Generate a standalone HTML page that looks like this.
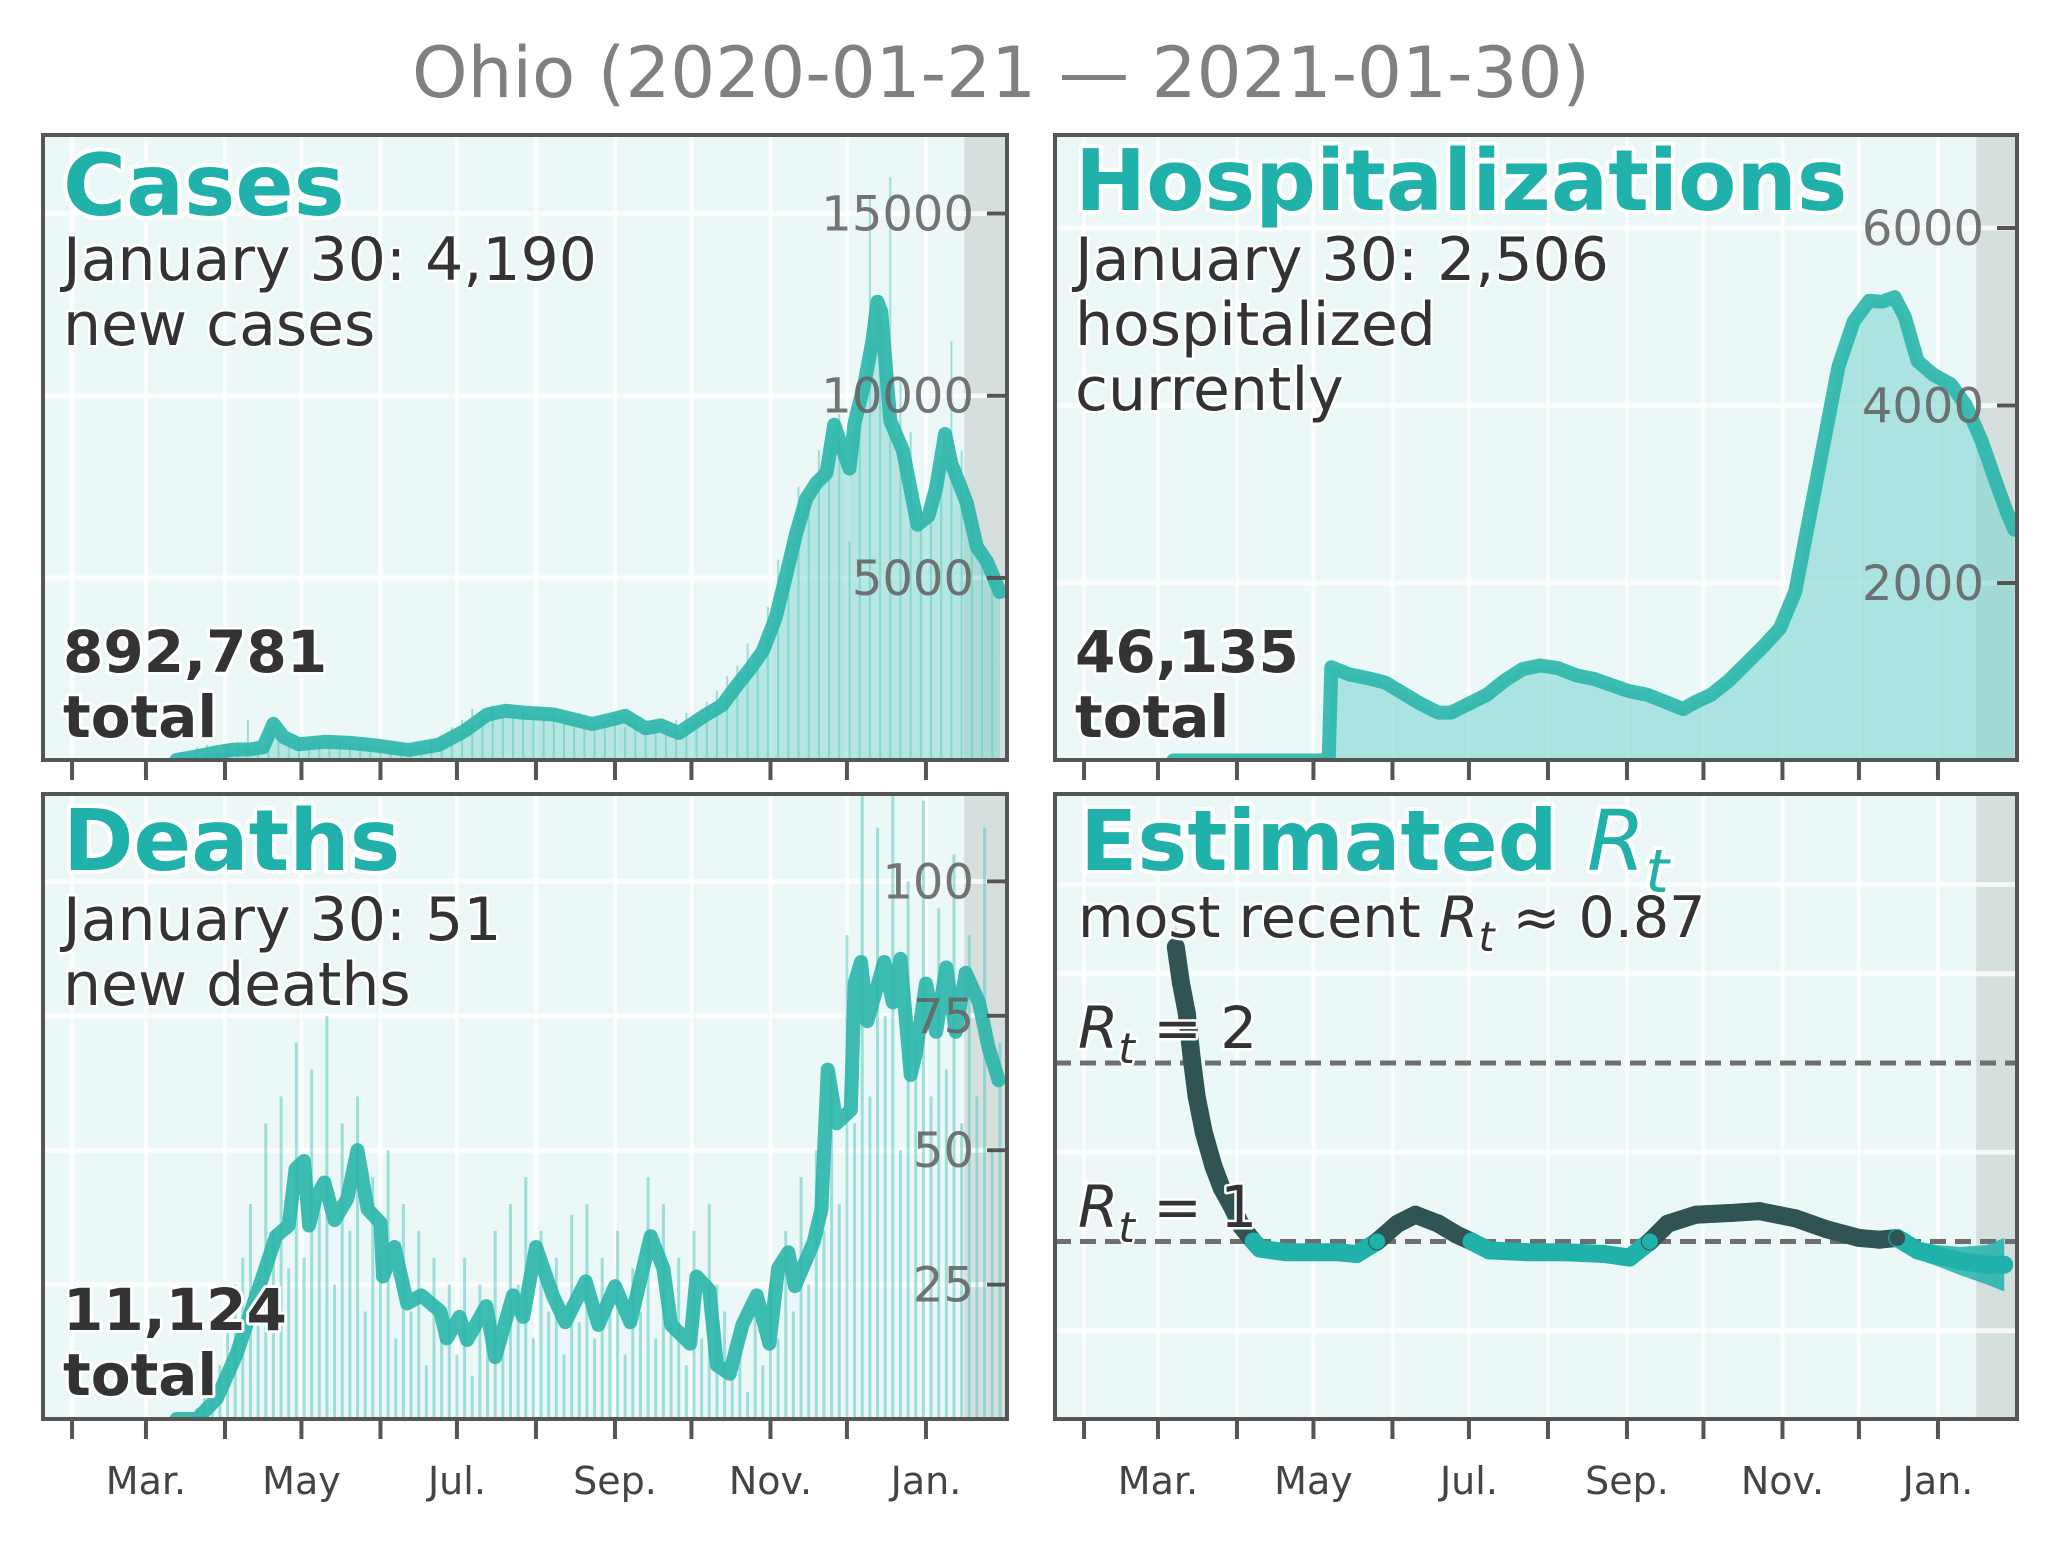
<!DOCTYPE html>
<html><head><meta charset="utf-8">
<style>
html,body{margin:0;padding:0;background:#fff;}
svg{display:block;}
text{font-family:"DejaVu Sans","Liberation Sans",sans-serif;}
.big{font-weight:bold;fill:#20b2aa;stroke:#fff;stroke-width:8px;paint-order:stroke;stroke-linejoin:round;}
.sub{fill:#333;stroke:#fff;stroke-width:5px;paint-order:stroke;stroke-linejoin:round;}
.tot{font-weight:bold;fill:#333;stroke:#fff;stroke-width:6px;paint-order:stroke;stroke-linejoin:round;}
.ytl{fill:#666;font-size:48px;text-anchor:end;opacity:.9;}
.xtl{fill:#444;font-size:38px;text-anchor:middle;}
</style></head>
<body>
<svg id="chart" width="2061" height="1543" viewBox="0 0 2061 1543" xmlns="http://www.w3.org/2000/svg">
<text x="1001" y="97" font-size="70" fill="#808080" text-anchor="middle" textLength="1178" lengthAdjust="spacingAndGlyphs">Ohio (2020-01-21 — 2021-01-30)</text>
</svg>
<script>
// ---- data (days since 2020-01-21) ----
const monthTickDays = [11,40,71,101,132,162,193,224,254,285,315,346];
const monthLabels = ["","Mar.","","May","","Jul.","","Sep.","","Nov.","","Jan."];
const shadeStartDay = 361;
const xMaxDay = 378;

const caseDays = [52,60,67,74,81,86,90,94,100,110,120,130,143,155,165,174,181,188,200,215,222,228,236,242,249,259,266,272,277,282,287,291,295,299,303,307,310,313,316,318,322,325,327,328.5,330,332,337,342.7,347,350,353.5,356,359,362,366,370,375];
const caseVals = [0,100,200,280,290,350,990,630,430,500,470,400,275,420,800,1250,1350,1300,1250,990,1100,1210,870,950,740,1210,1500,2060,2500,2990,3900,5030,6200,7170,7600,7880,9200,8600,8000,9250,10380,11500,12580,12300,10990,9310,8490,6460,6700,7470,8950,8130,7600,7060,5850,5440,4610];
const caseBarStart = 48;
const caseBarStep = 4;
const caseBars = [10,80,200,350,420,380,450,500,1100,500,450,550,
400,600,500,550,480,520,450,500,400,380,300,350,
320,380,500,700,900,1100,1400,1300,1500,1200,1400,1300,
1200,1100,1300,1000,900,1100,850,1000,1250,900,1100,800,
1000,900,1100,1300,1200,1600,1900,2300,2600,3200,3000,4200,
5500,6000,7500,7000,8500,7800,9500,6000,9000,15500,11000,16000,
10500,9000,7000,6500,8000,11500,8500,7000,6000,5000];
const caseTicks = [5000,10000,15000];

const hospDays = [46,107,108,115,122,129,136,143,150,155,162,169,176,183,190,197,204,211,218,225,232,239,246,251,257,264,271,278,284,290,294,300,307,313,319,324,329,333,338,344,351,357,363,368,373,376];
const hospVals = [0,0,1050,970,930,880,760,640,540,540,640,740,900,1030,1070,1040,960,920,850,780,740,660,580,660,740,900,1100,1300,1490,1900,2500,3400,4440,4950,5180,5170,5220,5000,4500,4350,4240,4000,3610,3200,2800,2600];
const hospTicks = [2000,4000,6000];

const deathDays = [52,60,67.8,75.5,85.8,91,96,98.7,102,104,106.5,110,114,119,123,127,132,133,137.5,142.5,148,155.5,158,163,166,173.5,177,184,188,193,199.6,204.5,212.5,217.5,224,230,238,243,246,253.5,256,261,264,269,274,279.6,284.6,288,292,294.6,302,305,307.5,311,316.5,318,320.5,323,329.6,333,336,340,342,346,350,354,357.7,361.6,366.8,370.6,374.5];
const deathVals = [0,0,3.8,12,26.5,34,36,46.5,48,36,41,44,37,41,50,39,36.5,26.5,32,21.5,23,20,15,19,14.7,21,11.5,23,19,32,23,18,25.6,17.5,24.7,18,34,28,17.5,14,26.5,24,10,8.4,17.5,23,14,28,31,24.7,33,39,65,55,57.5,81,85,74,85,77.5,85.6,64,68,81,72,84,72,83,77.5,69,63];
const deathBarStart = 60;
const deathBarStep = 3;
const deathBars = [2,4,8,10,18,25,30,40,20,55,35,60,28,70,
30,65,40,75,25,55,35,60,20,45,30,50,15,40,
20,35,10,30,15,25,12,30,8,25,18,35,15,40,
25,45,15,35,20,30,12,38,18,40,15,30,20,35,
12,28,20,45,15,40,18,30,10,35,15,40,25,20,
8,15,5,20,10,25,15,35,20,45,25,50,35,65,
40,90,55,120,60,110,75,130,50,100,70,115,60,95,
65,105,55,90,60,110,50,70];
const deathTicks = [25,50,75,100];

const rtDays = [47,49,51.3,53.3,55.2,58,61.8,65,68.5,73,77.5,80,90,100,110,118,126,134,141,150,157,163,170,185,200,215,225,233,240,251,265,276,290,302,315,323,330,338,346,355,365,372];
const rtVals = [2.65,2.45,2.28,2.02,1.81,1.61,1.42,1.3,1.21,1.08,1.0,0.96,0.94,0.94,0.94,0.93,1.0,1.1,1.15,1.1,1.04,1.0,0.95,0.94,0.94,0.93,0.91,1.0,1.1,1.15,1.16,1.17,1.13,1.07,1.02,1.01,1.02,0.95,0.92,0.89,0.87,0.87];
const rtErr = [0.12,0.1,0.09,0.08,0.07,0.06,0.05,0.05,0.05,0.04,0.04,0.04,0.04,0.04,0.04,0.04,0.04,0.05,0.05,0.05,0.04,0.04,0.04,0.04,0.04,0.04,0.04,0.04,0.04,0.05,0.05,0.05,0.05,0.05,0.05,0.04,0.05,0.05,0.06,0.08,0.11,0.15];
const rtGrid = [0.5,1.5,2.5,3];
const rtRefs = [1,2];

// ---- drawing ----
const NS = "http://www.w3.org/2000/svg";
const svg = document.getElementById("chart");
function mk(tag, attrs, parent){const e=document.createElementNS(NS,tag);for(const k in attrs)e.setAttribute(k,attrs[k]);(parent||svg).appendChild(e);return e;}
const PXD = 2.549;
const TEAL = "#2ab5aa";
const LW = 14;

function panel(name, x0, y0, w, h, yScale, ticks, tickFmt, showXLabels){
  const g = mk("g",{});
  
  
  const xs = d => x0 + 1 + d*PXD;
  const clipId = "clip-"+name;
  const cp = mk("clipPath",{id:clipId},g); mk("rect",{x:x0,y:y0,width:w,height:h},cp);
  const bg = mk("rect",{x:x0,y:y0,width:w,height:h,fill:"#ecf7f7"},g);
  
  
  const sh = mk("rect",{x:xs(shadeStartDay),y:y0,width:x0+w-xs(shadeStartDay),height:h,fill:"#d5dfde"},g);
  
  
  monthTickDays.forEach(d=>{mk("line",{x1:xs(d),x2:xs(d),y1:y0,y2:y0+h,stroke:"#fff",'stroke-width':4,opacity:0.8},g);});
  ticks.forEach(t=>{const y=yScale(t);mk("line",{x1:x0,x2:x0+w,y1:y,y2:y,stroke:"#fff",'stroke-width':5,opacity:0.8},g);});
  const content = mk("g",{'clip-path':"url(#"+clipId+")"},g);
  monthTickDays.forEach((d,i)=>{
    const t = mk("line",{x1:xs(d),x2:xs(d),y1:y0+h,y2:y0+h+20,stroke:"#555",'stroke-width':4},g);
    
    
    if(showXLabels && monthLabels[i]){
      const tl = mk("text",{x:xs(d),y:1494,class:"xtl"},g); tl.textContent=monthLabels[i];
      
      
    }
  });
  if(tickFmt){
    ticks.forEach(t=>{
      const y=yScale(t);
      mk("line",{x1:x0+w-20,x2:x0+w,y1:y,y2:y,stroke:"#555",'stroke-width':4},g);
      const tl = mk("text",{x:x0+w-33,y:y+17,class:"ytl"},g); tl.textContent=tickFmt(t);
      
      
    });
  }
  return {g, content, xs, frame:()=>{const f=mk("rect",{x:x0,y:y0,width:w,height:h,fill:"none",stroke:"#555",'stroke-width':4},g);}};
}
function pathFrom(days, vals, xs, ys){return days.map((d,i)=>(i?"L":"M")+xs(d).toFixed(1)+","+ys(vals[i]).toFixed(1)).join("");}
function barsFrom(parent, start, step, vals, xs, ys, base, w, name){
  vals.forEach((v,i)=>{
    const d = start + i*step;
    const b = mk("rect",{x:xs(d)-w/2,y:ys(v),width:w,height:base-ys(v),fill:"#5fcac1",opacity:0.55},parent);
    
    
  });
}
function textLines(parent, x, items){
  items.forEach(it=>{const t=mk("text",{x:x,y:it.y,class:it.c,'font-size':it.s},parent);t.textContent=it.t;
    
    });
}

// Cases
{
  const x0=43,y0=135,w=964,h=625;
  const ys = v => 760 - v*0.03643;
  const p = panel("cases",x0,y0,w,h,ys,caseTicks,v=>String(v),false);
  const area = mk("path",{d:pathFrom(caseDays,caseVals,p.xs,ys)+"L"+p.xs(caseDays[caseDays.length-1])+","+(y0+h)+"L"+p.xs(caseDays[0])+","+(y0+h)+"Z",fill:"#7fd6ce",opacity:0.5},p.content);
  
  
  barsFrom(p.content, caseBarStart, caseBarStep, caseBars, p.xs, ys, y0+h, 2, 'cases-bar');
  const ln = mk("path",{d:pathFrom(caseDays,caseVals,p.xs,ys),fill:"none",stroke:TEAL,'stroke-width':LW,'stroke-linejoin':"round",'stroke-linecap':"round",opacity:0.9},p.content);
  
  
  textLines(p.g, 63, [{y:215,t:"Cases",c:"big",s:86,n:"cases-title"},{y:280,t:"January 30: 4,190",c:"sub",s:60,n:"cases-latest"},{y:345,t:"new cases",c:"sub",s:60,n:"cases-latest-unit"},{y:672,t:"892,781",c:"tot",s:58,n:"cases-total"},{y:737,t:"total",c:"tot",s:58,n:"cases-total-label"}]);
  p.frame();
}
// Hospitalizations
{
  const x0=1055,y0=135,w=962,h=625;
  const ys = v => 760.5 - v*0.08875;
  const p = panel("hosp",x0,y0,w,h,ys,hospTicks,v=>String(v),false);
  const area = mk("path",{d:pathFrom(hospDays,hospVals,p.xs,ys)+"L"+p.xs(hospDays[hospDays.length-1])+","+(y0+h)+"L"+p.xs(hospDays[0])+","+(y0+h)+"Z",fill:"#7fd6ce",opacity:0.6},p.content);
  
  
  const ln = mk("path",{d:pathFrom(hospDays,hospVals,p.xs,ys),fill:"none",stroke:TEAL,'stroke-width':LW,'stroke-linejoin':"round",'stroke-linecap':"round",opacity:0.9},p.content);
  
  
  textLines(p.g, 1075, [{y:210,t:"Hospitalizations",c:"big",s:85,n:"hosp-title"},{y:280,t:"January 30: 2,506",c:"sub",s:60,n:"hosp-latest"},{y:345,t:"hospitalized",c:"sub",s:60,n:"hosp-latest-unit"},{y:410,t:"currently",c:"sub",s:60,n:"hosp-latest-unit2"},{y:672,t:"46,135",c:"tot",s:58,n:"hosp-total"},{y:737,t:"total",c:"tot",s:58,n:"hosp-total-label"}]);
  p.frame();
}
// Deaths
{
  const x0=43,y0=794,w=964,h=625;
  const ys = v => 1419 - v*5.376;
  const p = panel("deaths",x0,y0,w,h,ys,deathTicks,v=>String(v),true);
  barsFrom(p.content, deathBarStart, deathBarStep, deathBars, p.xs, ys, y0+h, 3, 'deaths-bar');
  const ln = mk("path",{d:pathFrom(deathDays,deathVals,p.xs,ys),fill:"none",stroke:TEAL,'stroke-width':LW,'stroke-linejoin':"round",'stroke-linecap':"round",opacity:0.9},p.content);
  
  
  textLines(p.g, 63, [{y:870,t:"Deaths",c:"big",s:85,n:"deaths-title"},{y:940,t:"January 30: 51",c:"sub",s:60,n:"deaths-latest"},{y:1005,t:"new deaths",c:"sub",s:60,n:"deaths-latest-unit"},{y:1330,t:"11,124",c:"tot",s:58,n:"deaths-total"},{y:1395,t:"total",c:"tot",s:58,n:"deaths-total-label"}]);
  p.frame();
}
// Rt
{
  const x0=1055,y0=794,w=962,h=625;
  const ys = v => 1241.5 - (v-1)*178.5;
  const p = panel("rt",x0,y0,w,h,ys,rtGrid,null,true);
  rtRefs.forEach(r=>{
    const l = mk("line",{x1:x0,x2:x0+w,y1:ys(r),y2:ys(r),stroke:"#6e6e6e",'stroke-width':5,'stroke-dasharray':"16,9"},p.content);
    
    
  });
  for(let i=0;i<rtDays.length-1;i++){
    const col = (rtVals[i]+rtVals[i+1])/2 > 1.0 ? "#2f5453" : "#20b2aa";
    const band = mk("path",{d:"M"+p.xs(rtDays[i])+","+ys(rtVals[i]+rtErr[i])+"L"+p.xs(rtDays[i+1])+","+ys(rtVals[i+1]+rtErr[i+1])+"L"+p.xs(rtDays[i+1])+","+ys(rtVals[i+1]-rtErr[i+1])+"L"+p.xs(rtDays[i])+","+ys(rtVals[i]-rtErr[i])+"Z",fill:col,opacity:0.85},p.content);
    
    
    const seg = mk("line",{x1:p.xs(rtDays[i]),y1:ys(rtVals[i]),x2:p.xs(rtDays[i+1]),y2:ys(rtVals[i+1]),stroke:col,'stroke-width':18,'stroke-linecap':"round"},p.content);
    
    
  }
  rtDays.forEach((d,i)=>{
    const c = mk("circle",{cx:p.xs(d),cy:ys(rtVals[i]),r:8,fill:rtVals[i]>1?"#2f5453":"#20b2aa"},p.content);
    
    
  });
  const t1 = mk("text",{x:1080,y:870,class:"big",'font-size':84},p.g);
  
  
  t1.innerHTML = 'Estimated <tspan font-style="italic" font-weight="normal">R</tspan><tspan font-style="italic" font-weight="normal" font-size="60" dy="22">t</tspan>';
  const t2 = mk("text",{x:1078,y:937,class:"sub",'font-size':57,fill:"#444"},p.g);
  
  
  t2.innerHTML = 'most recent <tspan font-style="italic">R</tspan><tspan font-style="italic" font-size="41" dy="14">t</tspan><tspan dy="-14"> ≈ 0.87</tspan>';
  [[2,1048],[1,1227]].forEach(([r,y])=>{
    const t = mk("text",{x:1078,y:y,class:"sub",'font-size':58,fill:"#444"},p.g);
    
    
    t.innerHTML = '<tspan font-style="italic">R</tspan><tspan font-style="italic" font-size="42" dy="15">t</tspan><tspan dy="-15"> = '+r+'</tspan>';
  });
  p.frame();
}
</script>
</body></html>
